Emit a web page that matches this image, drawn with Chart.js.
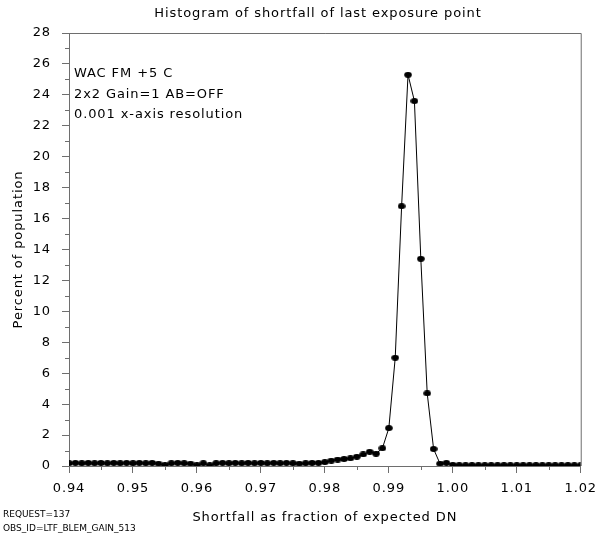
<!DOCTYPE html>
<html lang="en">
<head>
  <meta charset="UTF-8">
  <title>Histogram of shortfall</title>
  <script src="https://cdn.jsdelivr.net/npm/chart.js"></script>
  <style>
    html, body { margin: 0; padding: 0; background: #fff; }
    #wrap { width: 605px; height: 537px; }
  </style>
</head>
<body>
  <div id="wrap"><canvas id="grafico"></canvas></div>

<script>
  // bins of 0.001 along the x axis
  const shortfall = [
    0.940, 0.941, 0.942, 0.943, 0.944, 0.945, 0.946, 0.947, 0.948, 0.949,
    0.950, 0.951, 0.952, 0.953, 0.954, 0.955, 0.956, 0.957, 0.958, 0.959,
    0.960, 0.961, 0.962, 0.963, 0.964, 0.965, 0.966, 0.967, 0.968, 0.969,
    0.970, 0.971, 0.972, 0.973, 0.974, 0.975, 0.976, 0.977, 0.978, 0.979,
    0.980, 0.981, 0.982, 0.983, 0.984, 0.985, 0.986, 0.987, 0.988, 0.989,
    0.990, 0.991, 0.992, 0.993, 0.994, 0.995, 0.996, 0.997, 0.998, 0.999,
    1.000, 1.001, 1.002, 1.003, 1.004, 1.005, 1.006, 1.007, 1.008, 1.009,
    1.010, 1.011, 1.012, 1.013, 1.014, 1.015, 1.016, 1.017, 1.018, 1.019,
    1.020
  ];

  // percent of population in each bin
  const percent = [
    0.18, 0.20, 0.18, 0.20, 0.18, 0.20, 0.18, 0.20, 0.18, 0.20,
    0.18, 0.20, 0.18, 0.20, 0.15, 0.06, 0.18, 0.20, 0.18, 0.15,
    0.05, 0.18, 0.05, 0.18, 0.20, 0.18, 0.20, 0.18, 0.20, 0.18,
    0.20, 0.18, 0.20, 0.18, 0.20, 0.18, 0.15, 0.18, 0.20, 0.20,
    0.25, 0.35, 0.42, 0.45, 0.50, 0.60, 0.75, 0.92, 0.80, 1.15,
    2.45, 7.00, 16.8, 25.3, 23.6, 13.4, 4.70, 1.10, 0.15, 0.20,
    0.08, 0.05, 0.05, 0.05, 0.05, 0.05, 0.05, 0.05, 0.05, 0.05,
    0.05, 0.05, 0.05, 0.05, 0.05, 0.05, 0.05, 0.05, 0.05, 0.05,
    0.05
  ];

  const titulo = 'Histogram of shortfall of last exposure point';
  const anotacoes = ['WAC FM +5 C', '2x2 Gain=1 AB=OFF', '0.001 x-axis resolution'];
  const rodape = ['REQUEST=137', 'OBS_ID=LTF_BLEM_GAIN_513'];

  const fonte = 'DejaVu Sans';
  const cinza = '#6e6e6e';
  const espaco = '0.9px';

  const pontos = shortfall.map((x, i) => ({ x: x, y: percent[i] }));

  // marcador meio achatado, como no original
  function criarMarcador() {
    const c = document.createElement('canvas');
    c.width = 8;
    c.height = 6;
    const g = c.getContext('2d');
    g.fillStyle = '#000';
    g.beginPath();
    g.ellipse(4, 3, 3.8, 2.9, 0, 0, Math.PI * 2);
    g.fill();
    return c;
  }
  const marcador = criarMarcador();

  // espacamento das letras (o canvas perde isso quando redimensiona)
  const espacamento = {
    id: 'espacamento',
    beforeLayout(chart) { chart.ctx.letterSpacing = espaco; },
    beforeDraw(chart) { chart.ctx.letterSpacing = espaco; }
  };

  // moldura, ticks menores e textos soltos
  const extras = {
    id: 'extras',
    afterDraw(chart) {
      const ctx = chart.ctx;
      const a = chart.chartArea;
      ctx.save();
      ctx.strokeStyle = cinza;
      ctx.lineWidth = 1;
      ctx.beginPath();
      ctx.moveTo(a.left, a.top + 0.5);
      ctx.lineTo(a.right + 0.5, a.top + 0.5);
      ctx.lineTo(a.right + 0.5, a.bottom);
      ctx.stroke();

      // ticks menores
      const sx = chart.scales.x;
      sx.ticks.forEach((t, i) => {
        if (i % 2 === 1) {
          const px = Math.round(sx.getPixelForValue(t.value)) + 0.5;
          ctx.beginPath();
          ctx.moveTo(px, a.bottom);
          ctx.lineTo(px, a.bottom + 4);
          ctx.stroke();
        }
      });
      const sy = chart.scales.y;
      sy.ticks.forEach((t, i) => {
        if (i % 2 === 1) {
          const py = Math.round(sy.getPixelForValue(t.value)) + 0.5;
          ctx.beginPath();
          ctx.moveTo(a.left, py);
          ctx.lineTo(a.left - 4, py);
          ctx.stroke();
        }
      });

      ctx.fillStyle = '#000';
      ctx.textBaseline = 'alphabetic';
      ctx.font = '13px "' + fonte + '"';
      ctx.textAlign = 'center';
      ctx.fillText(titulo, 318, 17);
      ctx.textAlign = 'left';
      anotacoes.forEach((txt, i) => {
        ctx.fillText(txt, a.left + 5, 77 + i * 20.5);
      });
      ctx.letterSpacing = '0px';
      ctx.font = '9px "' + fonte + '"';
      ctx.fillText(rodape[0], 3, 517);
      ctx.fillText(rodape[1], 3, 531);
      ctx.restore();
    }
  };

  const grafico = new Chart(document.getElementById('grafico'), {
    type: 'line',
    data: {
      datasets: [{
        label: 'Percent of population',
        data: pontos,
        borderColor: '#000',
        borderWidth: 1,
        backgroundColor: '#000',
        pointStyle: marcador,
        pointRadius: 4,
        tension: 0
      }]
    },
    options: {
      responsive: true,
      maintainAspectRatio: false,
      animation: false,
      layout: { padding: { left: 0, right: 23, top: 33, bottom: 0 } },
      plugins: {
        legend: { display: false },
        tooltip: { enabled: false },
        title: { display: false }
      },
      scales: {
        x: {
          type: 'linear',
          min: 0.94,
          max: 1.02,
          afterFit(scale) { scale.height = 71; },
          border: { display: true, color: cinza, width: 1 },
          grid: {
            drawOnChartArea: false,
            drawTicks: true,
            tickLength: 7,
            tickColor: (c) => (c.index % 2 === 0 ? cinza : 'rgba(0,0,0,0)')
          },
          ticks: {
            stepSize: 0.005,
            color: '#000',
            padding: 8,
            maxRotation: 0,
            autoSkip: false,
            font: { family: fonte, size: 13 },
            callback: (v, i) => (i % 2 === 0 ? v.toFixed(2) : '')
          },
          title: {
            display: true,
            text: 'Shortfall as fraction of expected DN',
            color: '#000',
            font: { family: fonte, size: 13 },
            padding: { top: 0, bottom: 12 }
          }
        },
        y: {
          min: 0,
          max: 28,
          afterFit(scale) { scale.width = 69; },
          border: { display: true, color: cinza, width: 1 },
          grid: {
            drawOnChartArea: false,
            drawTicks: true,
            tickLength: 7,
            tickColor: (c) => (c.index % 2 === 0 ? cinza : 'rgba(0,0,0,0)')
          },
          ticks: {
            stepSize: 1,
            color: '#000',
            padding: 11,
            autoSkip: false,
            font: { family: fonte, size: 13 },
            callback: (v, i) => (i % 2 === 0 ? String(v) : '')
          },
          title: {
            display: true,
            text: 'Percent of population',
            color: '#000',
            font: { family: fonte, size: 13 },
            padding: { top: 11, bottom: 0 }
          }
        }
      }
    },
    plugins: [espacamento, extras]
  });
</script>
</body>
</html>
